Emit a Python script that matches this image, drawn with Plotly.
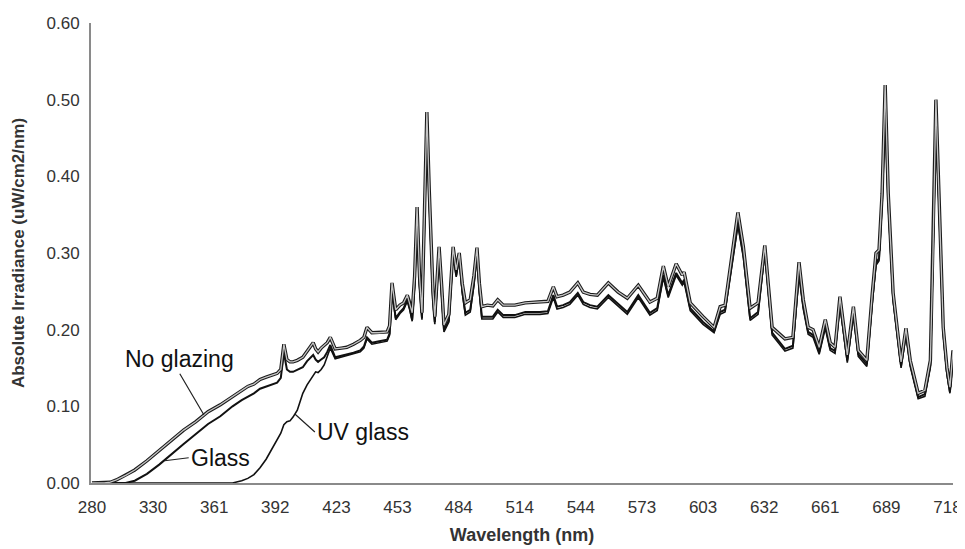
import plotly.graph_objects as go

# spectrometer sample index (x) shared by the three series
sample_index = [0, 20, 30, 40, 55, 70, 90, 110, 130, 150, 170, 190, 210, 230, 245, 255, 265, 275, 285, 295,
                303, 309, 314, 319, 324, 329, 336, 345, 352, 357, 362, 366, 370, 375, 380, 385, 390, 398, 408, 417,
                428, 439, 445, 450, 458, 470, 483, 487, 491, 497, 504, 510, 516, 520, 524, 528, 532, 536, 540, 544,
                548, 552, 555, 558, 561, 565, 568, 572, 576, 584, 591, 596, 601, 606, 611, 619, 625, 630, 634, 638,
                647, 656, 664, 673, 692, 709, 733, 746, 755, 761, 771, 782, 795, 804, 815, 827, 845, 861, 876, 894,
                913, 925, 935, 943, 956, 966, 969, 979, 1000, 1018, 1028, 1036, 1047, 1057, 1066, 1077, 1090, 1101, 1113, 1134,
                1147, 1157, 1164, 1172, 1180, 1190, 1200, 1208, 1216, 1224, 1236, 1246, 1254, 1268, 1277, 1283, 1288, 1293, 1298, 1303,
                1311, 1318, 1324, 1332, 1339, 1352, 1363, 1372, 1376, 1381, 1386, 1393, 1399, 1404, 1409]

no_glazing = [0, 0, 0.001, 0.004, 0.010, 0.017, 0.029, 0.042, 0.056, 0.069, 0.080, 0.093, 0.102, 0.113, 0.121, 0.126, 0.129, 0.135, 0.138, 0.141,
              0.143, 0.148, 0.181, 0.161, 0.158, 0.158, 0.160, 0.164, 0.172, 0.178, 0.183, 0.175, 0.171, 0.176, 0.179, 0.183, 0.190, 0.175, 0.176, 0.177,
              0.181, 0.186, 0.190, 0.203, 0.196, 0.196, 0.197, 0.205, 0.261, 0.226, 0.232, 0.235, 0.245, 0.235, 0.222, 0.270, 0.360, 0.270, 0.222, 0.350,
              0.484, 0.380, 0.304, 0.250, 0.217, 0.270, 0.308, 0.260, 0.206, 0.220, 0.308, 0.278, 0.300, 0.260, 0.235, 0.239, 0.270, 0.307, 0.260, 0.230,
              0.232, 0.231, 0.239, 0.232, 0.232, 0.235, 0.236, 0.237, 0.256, 0.243, 0.245, 0.249, 0.261, 0.249, 0.246, 0.245, 0.261, 0.249, 0.241, 0.258,
              0.236, 0.241, 0.283, 0.256, 0.286, 0.271, 0.275, 0.235, 0.217, 0.203, 0.230, 0.232, 0.295, 0.353, 0.308, 0.228, 0.235, 0.310, 0.203, 0.188,
              0.190, 0.288, 0.239, 0.203, 0.200, 0.177, 0.213, 0.183, 0.177, 0.243, 0.167, 0.230, 0.173, 0.160, 0.248, 0.300, 0.304, 0.378, 0.519, 0.378,
              0.248, 0.203, 0.158, 0.202, 0.160, 0.117, 0.121, 0.160, 0.291, 0.500, 0.378, 0.203, 0.151, 0.125, 0.173]

glass = [0, 0, 0, 0, 0, 0.003, 0.012, 0.024, 0.038, 0.051, 0.064, 0.077, 0.087, 0.100, 0.108, 0.112, 0.117, 0.123, 0.126, 0.129,
         0.131, 0.137, 0.170, 0.148, 0.145, 0.145, 0.148, 0.151, 0.159, 0.163, 0.167, 0.161, 0.158, 0.161, 0.164, 0.171, 0.180, 0.164, 0.166, 0.167,
         0.170, 0.173, 0.178, 0.190, 0.183, 0.185, 0.187, 0.195, 0.252, 0.215, 0.223, 0.228, 0.239, 0.228, 0.213, 0.260, 0.353, 0.260, 0.215, 0.340,
         0.480, 0.370, 0.297, 0.240, 0.210, 0.260, 0.304, 0.250, 0.200, 0.212, 0.301, 0.271, 0.295, 0.250, 0.222, 0.226, 0.260, 0.301, 0.250, 0.217,
         0.217, 0.217, 0.226, 0.219, 0.219, 0.223, 0.223, 0.224, 0.245, 0.230, 0.232, 0.236, 0.248, 0.236, 0.232, 0.230, 0.245, 0.233, 0.223, 0.245,
         0.222, 0.228, 0.271, 0.245, 0.274, 0.261, 0.265, 0.228, 0.210, 0.198, 0.223, 0.226, 0.284, 0.339, 0.297, 0.215, 0.223, 0.304, 0.196, 0.175,
         0.179, 0.274, 0.230, 0.197, 0.193, 0.171, 0.205, 0.176, 0.172, 0.235, 0.160, 0.222, 0.168, 0.155, 0.239, 0.287, 0.293, 0.369, 0.487, 0.369,
         0.241, 0.197, 0.153, 0.196, 0.155, 0.112, 0.116, 0.154, 0.280, 0.470, 0.369, 0.197, 0.145, 0.119, 0.167]

uv_glass = [0, 0, 0, 0, 0, 0, 0, 0, 0, 0, 0, 0, 0, 0, 0.003, 0.006, 0.011, 0.020, 0.031, 0.045,
            0.055, 0.065, 0.076, 0.080, 0.081, 0.086, 0.095, 0.117, 0.128, 0.134, 0.141, 0.145, 0.144, 0.148, 0.154, 0.165, 0.176, 0.162, 0.164, 0.166,
            0.168, 0.171, 0.176, 0.188, 0.181, 0.183, 0.185, 0.193, 0.250, 0.213, 0.221, 0.226, 0.237, 0.226, 0.211, 0.258, 0.351, 0.258, 0.213, 0.338,
            0.478, 0.368, 0.295, 0.238, 0.207, 0.258, 0.302, 0.248, 0.197, 0.210, 0.299, 0.269, 0.293, 0.248, 0.219, 0.223, 0.258, 0.299, 0.248, 0.214,
            0.214, 0.214, 0.223, 0.216, 0.216, 0.220, 0.220, 0.221, 0.242, 0.227, 0.229, 0.233, 0.245, 0.233, 0.229, 0.227, 0.242, 0.230, 0.220, 0.242,
            0.219, 0.225, 0.268, 0.242, 0.271, 0.258, 0.262, 0.225, 0.207, 0.196, 0.220, 0.223, 0.281, 0.336, 0.294, 0.212, 0.220, 0.301, 0.193, 0.172,
            0.176, 0.271, 0.227, 0.194, 0.190, 0.168, 0.202, 0.173, 0.169, 0.232, 0.157, 0.219, 0.165, 0.152, 0.236, 0.284, 0.290, 0.366, 0.484, 0.366,
            0.238, 0.194, 0.150, 0.193, 0.152, 0.110, 0.113, 0.151, 0.277, 0.466, 0.366, 0.194, 0.142, 0.117, 0.164]

tick_index = [0, 100, 200, 300, 400, 500, 600, 700, 800, 900, 1000, 1100, 1200, 1300, 1400]
tick_labels = ["280", "330", "361", "392", "423", "453", "484", "514", "544", "573", "603", "632", "661", "689", "718"]

FONT = "Liberation Sans, Arial, sans-serif"
TXT = "#333333"

fig = go.Figure()
fig.add_trace(go.Scatter(x=sample_index, y=uv_glass, mode="lines", name="UV glass",
                         line=dict(color="#111111", width=1.6)))
fig.add_trace(go.Scatter(x=sample_index, y=glass, mode="lines", name="Glass",
                         line=dict(color="#111111", width=2.0)))
fig.add_trace(go.Scatter(x=sample_index, y=no_glazing, mode="lines", name="No glazing",
                         line=dict(color="#1a1a1a", width=3.4)))
fig.add_trace(go.Scatter(x=sample_index, y=no_glazing, mode="lines", name="No glazing core",
                         line=dict(color="#c4c4c4", width=1.3)))

ann_font = dict(family=FONT, size=23, color="#111111")
fig.add_annotation(x=183, y=0.089, text="No glazing", showarrow=True, arrowhead=0, arrowwidth=1.2,
                   arrowcolor="#222222", ax=-24, ay=-41, xanchor="center", yanchor="bottom", font=ann_font)
fig.add_annotation(x=119, y=0.029, text="Glass", showarrow=True, arrowhead=0, arrowwidth=1.2,
                   arrowcolor="#222222", ax=24, ay=-3, xanchor="left", yanchor="middle", font=ann_font)
fig.add_annotation(x=332, y=0.090, text="UV glass", showarrow=True, arrowhead=0, arrowwidth=1.2,
                   arrowcolor="#222222", ax=20, ay=18, xanchor="left", yanchor="middle", font=ann_font)

# the page body adds an 8 px offset, so the figure is sized to fill the rest of the window
fig.update_layout(
    width=957, height=541,
    margin=dict(l=83, r=12, t=15, b=66),
    paper_bgcolor="white", plot_bgcolor="white",
    showlegend=False,
    font=dict(family=FONT, size=17, color=TXT),
)
fig.update_xaxes(
    range=[-1.6, 1409], tickvals=tick_index, ticktext=tick_labels, automargin=False,
    showgrid=False, zeroline=False, showline=True, linecolor="#8a8a8a", linewidth=2,
    ticks="", ticklabelstandoff=8, tickfont=dict(size=17, color=TXT),
    title=dict(text="<b>Wavelength (nm)</b>", font=dict(size=18, color=TXT), standoff=12),
)
fig.update_yaxes(
    range=[0, 0.6], dtick=0.1, tickformat=".2f", automargin=False,
    showgrid=False, zeroline=False, showline=True, linecolor="#8a8a8a", linewidth=2,
    ticks="", ticklabelstandoff=6, tickfont=dict(size=17, color=TXT),
    title=dict(text="<b>Absolute Irradiance (uW/cm2/nm)</b>", font=dict(size=17, color=TXT), standoff=18),
)

fig.write_html("out.html")
